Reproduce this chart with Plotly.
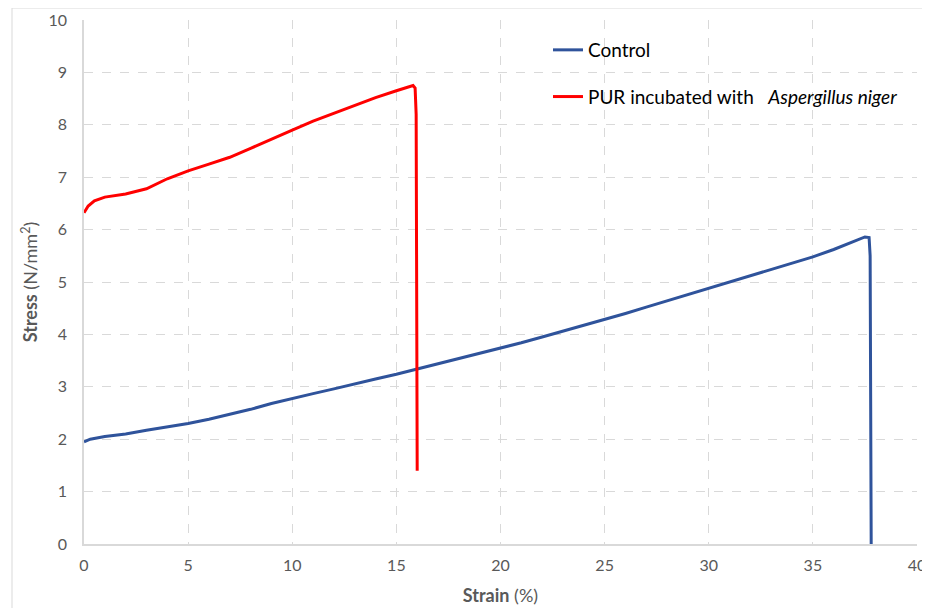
import plotly.graph_objects as go

# Control curve
control_strain = [0, 0.3, 1, 2, 3, 4, 5, 6, 7, 8, 9, 10, 11, 12, 13, 14, 15, 16, 17, 18, 19, 20,
                  21, 22, 23, 24, 25, 26, 27, 28, 29, 30, 31, 32, 33, 34, 35, 36, 37, 37.5, 37.7, 37.75, 37.8]
control_stress = [1.95, 2.0, 2.05, 2.1, 2.17, 2.23, 2.3, 2.38, 2.47, 2.57, 2.68, 2.78, 2.87, 2.96, 3.06, 3.15, 3.24, 3.34,
                  3.44, 3.54, 3.63, 3.73, 3.84, 3.95, 4.06, 4.17, 4.29, 4.4, 4.52, 4.64, 4.76, 4.88, 5.0, 5.12,
                  5.24, 5.36, 5.48, 5.62, 5.78, 5.86, 5.85, 5.5, 0.0]

# PUR incubated with Aspergillus niger
pur_strain = [0, 0.2, 0.5, 1, 2, 3, 4, 5, 6, 7, 8, 9, 10, 11, 12, 13, 14, 15, 15.5, 15.8, 15.9, 15.95, 16.0]
pur_stress = [6.32, 6.45, 6.55, 6.62, 6.68, 6.78, 6.97, 7.12, 7.25, 7.38, 7.55, 7.73, 7.9, 8.07, 8.22, 8.38,
              8.52, 8.65, 8.72, 8.75, 8.7, 8.2, 1.4]

x_ticks = [0, 5, 10, 15, 20, 25, 30, 35, 40]
y_ticks = [0, 1, 2, 3, 4, 5, 6, 7, 8, 9, 10]

FONT = "Lato"
GREY = "#595959"

fig = go.Figure()
fig.add_trace(go.Scatter(x=control_strain, y=control_stress, mode="lines",
                         name="Control", legendgroup="a",
                         line=dict(color="#2F539B", width=3)))
fig.add_trace(go.Scatter(x=pur_strain, y=pur_stress, mode="lines",
                         name="PUR incubated with   <i>Aspergillus niger</i>", legendgroup="b",
                         line=dict(color="#FF0000", width=3)))

fig.update_layout(
    width=922, height=600,
    margin=dict(l=76, r=13, t=12, b=64),
    paper_bgcolor="white", plot_bgcolor="white",
    font=dict(family=FONT, size=16, color=GREY),
    legend=dict(x=0.557, y=0.979, xanchor="left", yanchor="top",
                font=dict(family=FONT, size=19, color="#000000"),
                bgcolor="rgba(255,255,255,0)",
                traceorder="grouped", tracegroupgap=19, itemwidth=30),
    xaxis=dict(range=[0, 40], tickvals=x_ticks, ticks="", showgrid=True, automargin=False,
               ticklabeloverflow="allow",
               gridcolor="#d9d9d9", griddash="dash", gridwidth=1,
               showline=True, linecolor="#d9d9d9", linewidth=1.5, zeroline=False,
               tickfont=dict(size=16, color=GREY), ticklabelstandoff=6,
               title=dict(text="<b>Strain</b> (%)", font=dict(size=18, color=GREY), standoff=16)),
    yaxis=dict(range=[0, 10], tickvals=y_ticks, ticks="", showgrid=True, automargin=False,
               ticklabeloverflow="allow",
               gridcolor="#d9d9d9", griddash="dash", gridwidth=1,
               showline=True, linecolor="#d9d9d9", linewidth=1.5, zeroline=False,
               tickfont=dict(size=16, color=GREY), ticklabelstandoff=12,
               title=dict(text="<b>Stress</b> (N/mm<sup>2</sup>)", font=dict(size=18, color=GREY), standoff=6)),
)

fig.add_shape(type="rect", xref="paper", yref="paper",
              x0=(12 - 84) / 833, x1=(940 - 84) / 833,
              y0=(544 - 620) / 524, y1=(544 - 8) / 524,
              line=dict(color="#d9d9d9", width=1), fillcolor="rgba(0,0,0,0)", layer="below")

fig.write_html("out.html")
